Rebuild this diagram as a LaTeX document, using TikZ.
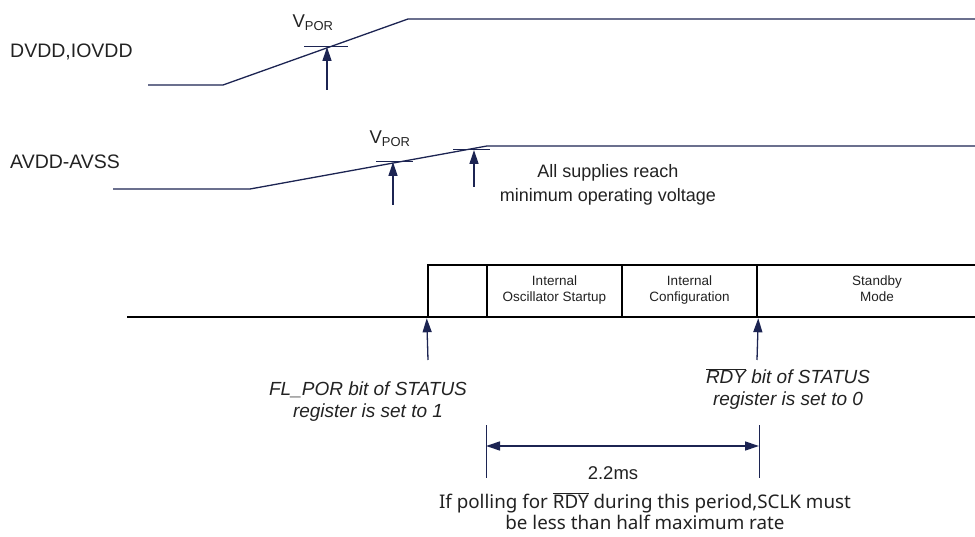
\documentclass[tikz,border=0pt]{standalone}
\usepackage{fontspec}
\setmainfont{Liberation Sans}
\newfontfamily\notefont{Noto Sans}
\usetikzlibrary{arrows.meta,positioning}
\definecolor{navy}{HTML}{1C2452}
\definecolor{ink}{HTML}{222222}

\begin{document}
\begin{tikzpicture}[x=1pt,y=-1pt,
	wave/.style={ navy, line width=1.3pt },
	tick/.style={ navy, line width=1pt },
	marker/.style={ navy, line width=1.3pt, -{Triangle[length=14pt,width=9pt]} },
	span/.style={ navy, line width=1.3pt, {Triangle[length=14pt,width=9pt]}-{Triangle[length=14pt,width=9pt]} },
	seg/.style={ line width=2.5pt, black },
	stage/.style={ draw, line width=2.5pt, minimum height=52pt, inner sep=0pt, align=center, text=ink, font=\fontsize{13.5}{16}\selectfont },
	lbl/.style={ text=ink, font=\fontsize{18.5}{22}\selectfont, inner sep=0pt },
	remark/.style={ text=ink, font=\fontsize{18}{24}\selectfont, align=center, inner sep=0pt },
	flag/.style={ text=ink, font=\fontsize{19}{22}\selectfont\itshape, align=center, inner sep=0pt }
]
\useasboundingbox (0,0) rectangle (975,537);

% DVDD,IOVDD
\node[lbl, anchor=west, font=\fontsize{19.5}{22}\selectfont] (dvdd) at (10,52) {DVDD,IOVDD};
\draw[wave] (148,85) -- (223,85) -- (408,19) -- (975,19);
\draw[tick] (304,47) -- (348,47);
\coordinate (vd) at (327,47);
\coordinate (vdt) at (327,90);
\draw[marker] (vdt) -- (vd);
\node[lbl] (vpord) at (313,23) {V\textsubscript{POR}};

% AVDD-AVSS
\node[lbl, anchor=west, font=\fontsize{19.5}{22}\selectfont] (avdd) at (10,162) {AVDD-AVSS};
\draw[wave] (113,189) -- (250,189) -- (487,146) -- (975,146);
\draw[tick] (376,162) -- (413,162);
\draw[tick] (453,150) -- (490,150);
\coordinate (va) at (393,162);
\coordinate (vat) at (393,205);
\coordinate (vm) at (474,150);
\coordinate (vmt) at (474,187);
\draw[marker] (vat) -- (va);
\draw[marker] (vmt) -- (vm);
\node[lbl] (vpora) at (390,139) {V\textsubscript{POR}};
\node[remark] (reach) at (608,185) {All supplies reach\\minimum operating voltage};

% power-up sequence
\draw[seg] (127,317) -- (430,317);
\node[stage, minimum width=59pt] (blank) at (457.5,291) {};
\node[stage, minimum width=135pt, text depth=4pt] (osc) at (554.5,291) {Internal\\Oscillator Startup};
\node[stage, minimum width=135pt, text depth=4pt] (cfg) at (689.5,291) {Internal\\Configuration};
\node[stage, minimum width=240pt, text depth=4pt] (stby) at (877,291) {Standby\\Mode};

\coordinate (fl) at (428,360);
\coordinate (rd) at (757,360);
\draw[marker] (fl) -- (blank.south west);
\draw[marker] (rd) -- (cfg.south east);
\node[flag] (flpor) at (368,402) {FL\_POR bit of STATUS\\register is set to 1};
\node[flag] (rdy) at (788,389) {$\overline{\hbox{RDY}}$ bit of STATUS\\register is set to 0};

% 2.2ms window
\coordinate (t0) at (486,425);
\coordinate (t0b) at (486,478);
\coordinate (t1) at (759,425);
\coordinate (t1b) at (759,478);
\draw[wave, line width=1pt] (t0) -- (t0b);
\draw[wave, line width=1pt] (t1) -- (t1b);
\draw[span] (486,446) -- (759,446);
\node[lbl] (dur) at (613,473) {2.2ms};
\node[remark, font=\notefont\fontsize{18.8}{21}\selectfont] (poll) at (645,511) {If polling for $\overline{\hbox{RDY}}$ during this period,SCLK must\\be less than half maximum rate};

\end{tikzpicture}
\end{document}
